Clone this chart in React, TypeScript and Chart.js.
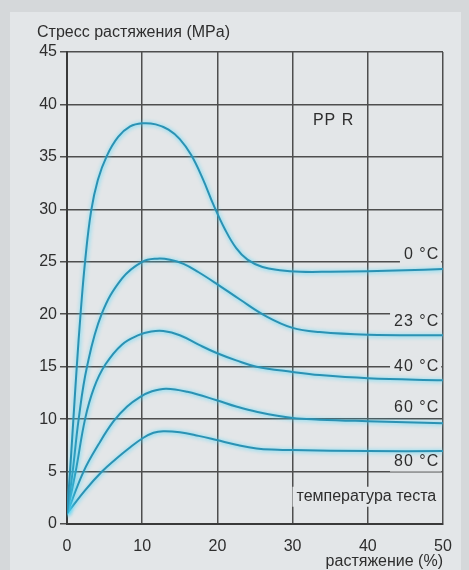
import React, { useEffect, useRef } from 'react';
import { Chart, registerables } from 'chart.js';

Chart.register(...registerables);

// ---- Data (strain %, stress MPa) ----
const strain0C = [0, 0.4, 0.85, 1.3, 1.8, 2.4, 3.2, 4.1, 5.3, 6.8, 8.4, 10, 11.8, 13.5, 15, 16.5, 18, 19.5, 21, 22.5, 24, 26, 28.3, 31, 35, 40, 45, 50];
const stress0C = [1.0, 5, 10, 15, 20, 25, 29.8, 32.8, 35.1, 36.9, 37.9, 38.2, 38.1, 37.6, 36.7, 35.2, 33.0, 30.4, 28.1, 26.3, 25.2, 24.5, 24.2, 24.05, 24.05, 24.1, 24.2, 24.3];

const strain23C = [0, 0.75, 1.55, 2.66, 4.6, 7.3, 10, 12, 13.7, 15.5, 17.5, 19.9, 23, 26.5, 30, 33.6, 40, 50];
const stress23C = [1.0, 5, 10, 15, 20, 23.4, 25, 25.3, 25.2, 24.8, 24.0, 22.9, 21.4, 19.8, 18.7, 18.3, 18.05, 18.0];

const strain40C = [0, 1.2, 2.4, 3.6, 5.1, 7.3, 9.5, 11.2, 12.8, 15, 17.5, 19.9, 22.5, 25.2, 30, 33.6, 40, 50];
const stress40C = [1.0, 5.2, 10, 13, 15.2, 17.1, 18.0, 18.35, 18.4, 18.0, 17.1, 16.3, 15.6, 15.0, 14.5, 14.2, 13.9, 13.7];

const strain60C = [0, 2.2, 4.2, 6.2, 8, 9.7, 11.3, 13.2, 16, 19.9, 22.5, 25.2, 30, 33.6, 40, 50];
const stress60C = [1.0, 5, 7.6, 9.8, 11.2, 12.1, 12.65, 12.9, 12.6, 11.8, 11.2, 10.7, 10.1, 9.95, 9.8, 9.6];

const strain80C = [0, 2.4, 4.65, 6.5, 8.2, 10.1, 11.5, 12.8, 15, 17.5, 19.9, 22.5, 25.2, 28, 30, 40, 50];
const stress80C = [1.0, 3.2, 5, 6.2, 7.2, 8.2, 8.7, 8.85, 8.75, 8.4, 8.0, 7.55, 7.2, 7.08, 7.05, 6.95, 6.95];

const seriesNames = ['0 °C', '23 °C', '40 °C', '60 °C', '80 °C'];
const seriesStrain = [strain0C, strain23C, strain40C, strain60C, strain80C];
const seriesStress = [stress0C, stress23C, stress40C, stress60C, stress80C];

// label anchors (data coordinates) for the curve labels
const labelStrain = 49.5;
const labelStress = [25.65, 19.3, 15.05, 11.1, 5.95];

const yTitle = 'Стресс растяжения (MPa)';
const xTitle = 'растяжение (%)';
const materialLabel = 'PP R';
const materialPos = { x: 32.7, y: 38.5 };
const testTempLabel = 'температура теста';
const testTempPos = { x: 49.1, y: 2.6 };

const xMin = 0, xMax = 50, xStep = 10;
const yMin = 0, yMax = 45, yStep = 5;

// ---- Styles ----
const FONT = '"Liberation Sans", Arial, Helvetica, sans-serif';
const OUTER_BG = '#d5d8da';
const PANEL_BG = '#e3e6e8';
const TEXT = '#2e2e2e';
const GRID = '#4e4e4e';
const CURVE = '#2a92b4';
const GLOW = 'rgba(70, 215, 250, 0.95)';

const bgPlugin = {
  id: 'bgPanel',
  beforeDraw(chart: any) {
    const { ctx, width, height } = chart;
    ctx.save();
    ctx.fillStyle = OUTER_BG;
    ctx.fillRect(0, 0, width, height);
    ctx.fillStyle = PANEL_BG;
    ctx.fillRect(10, 12, width - 18, height - 12);
    ctx.restore();
  },
};

const glowPlugin = {
  id: 'glow',
  beforeDatasetDraw(chart: any) {
    const ctx = chart.ctx;
    ctx.save();
    ctx.shadowColor = GLOW;
    ctx.shadowBlur = 4;
    ctx.shadowOffsetX = 0.5;
    ctx.shadowOffsetY = 0.5;
  },
  afterDatasetDraw(chart: any) {
    chart.ctx.restore();
  },
};

function boxes(chart: any) {
  const { ctx, scales } = chart;
  const xs = scales.x, ys = scales.y;
  const out: { text: string; right: number; cy: number; w: number }[] = [];
  ctx.save();
  ctx.font = `16px ${FONT}`;
  (ctx as any).letterSpacing = '1px';
  seriesNames.forEach((t, i) => {
    const w = ctx.measureText(t).width;
    out.push({ text: t, right: xs.getPixelForValue(labelStrain), cy: ys.getPixelForValue(labelStress[i]), w });
  });
  (ctx as any).letterSpacing = '0px';
  const w2 = ctx.measureText(testTempLabel).width;
  out.push({ text: testTempLabel, right: xs.getPixelForValue(testTempPos.x), cy: ys.getPixelForValue(testTempPos.y), w: w2 });
  ctx.restore();
  return out;
}

const annotPlugin = {
  id: 'annot',
  beforeDatasetsDraw(chart: any) {
    const { ctx, chartArea } = chart;
    ctx.save();
    ctx.fillStyle = PANEL_BG;
    for (const b of boxes(chart)) {
      const r = Math.min(b.right + 2, chartArea.right - 1.5);
      ctx.fillRect(b.right - b.w - 4, b.cy - 10, r - (b.right - b.w - 4), 20);
    }
    ctx.restore();
  },
  afterDatasetsDraw(chart: any) {
    const { ctx, scales } = chart;
    ctx.save();
    ctx.fillStyle = TEXT;
    ctx.textBaseline = 'middle';
    ctx.font = `16px ${FONT}`;
    const bs = boxes(chart);
    bs.forEach((b, i) => {
      (ctx as any).letterSpacing = i < seriesNames.length ? '1px' : '0px';
      ctx.textAlign = 'right';
      ctx.fillText(b.text, b.right, b.cy);
    });
    (ctx as any).letterSpacing = '1px';
    ctx.textAlign = 'left';
    ctx.fillText(materialLabel, scales.x.getPixelForValue(materialPos.x), scales.y.getPixelForValue(materialPos.y));
    (ctx as any).letterSpacing = '0px';
    ctx.fillText(yTitle, 37, 33);
    ctx.restore();
  },
};

export default function App() {
  const ref = useRef<HTMLCanvasElement | null>(null);

  useEffect(() => {
    if (!ref.current) return;
    const datasets = seriesNames.map((name, i) => ({
      label: name,
      data: seriesStrain[i].map((x, k) => ({ x, y: seriesStress[i][k] })),
      borderColor: CURVE,
      borderWidth: 2,
      pointRadius: 0,
      fill: false,
      tension: 0.4,
    }));

    const chart = new Chart(ref.current, {
      type: 'line',
      data: { datasets },
      options: {
        animation: false,
        responsive: true,
        maintainAspectRatio: false,
        layout: { padding: { left: 0, top: 52, right: 26, bottom: 0 } },
        plugins: {
          legend: { display: false },
          tooltip: { enabled: false },
          title: { display: false },
        },
        scales: {
          x: {
            type: 'linear',
            min: xMin,
            max: xMax,
            afterFit: (s: any) => { s.height = 46; },
            ticks: { stepSize: xStep, color: TEXT, font: { family: FONT, size: 16 }, padding: 13 },
            grid: { color: GRID, lineWidth: 1.5, drawTicks: false },
            border: { display: true, color: '#3a3a3a', width: 2 },
            title: {
              display: true,
              text: xTitle,
              align: 'end',
              color: TEXT,
              font: { family: FONT, size: 16, lineHeight: 1 },
              padding: { top: 0, bottom: 0 },
            },
          },
          y: {
            type: 'linear',
            min: yMin,
            max: yMax,
            afterFit: (s: any) => { s.width = 67; },
            ticks: { stepSize: yStep, color: TEXT, font: { family: FONT, size: 16 }, padding: 3 },
            grid: { color: GRID, lineWidth: 1.5, tickLength: 7 },
            border: { display: true, color: '#3a3a3a', width: 2 },
          },
        },
      },
      plugins: [bgPlugin, glowPlugin, annotPlugin],
    });
    return () => chart.destroy();
  }, []);

  return (
    <div style={{ position: 'fixed', left: 0, top: 0, width: 469, height: 570 }}>
      <canvas ref={ref} />
    </div>
  );
}
